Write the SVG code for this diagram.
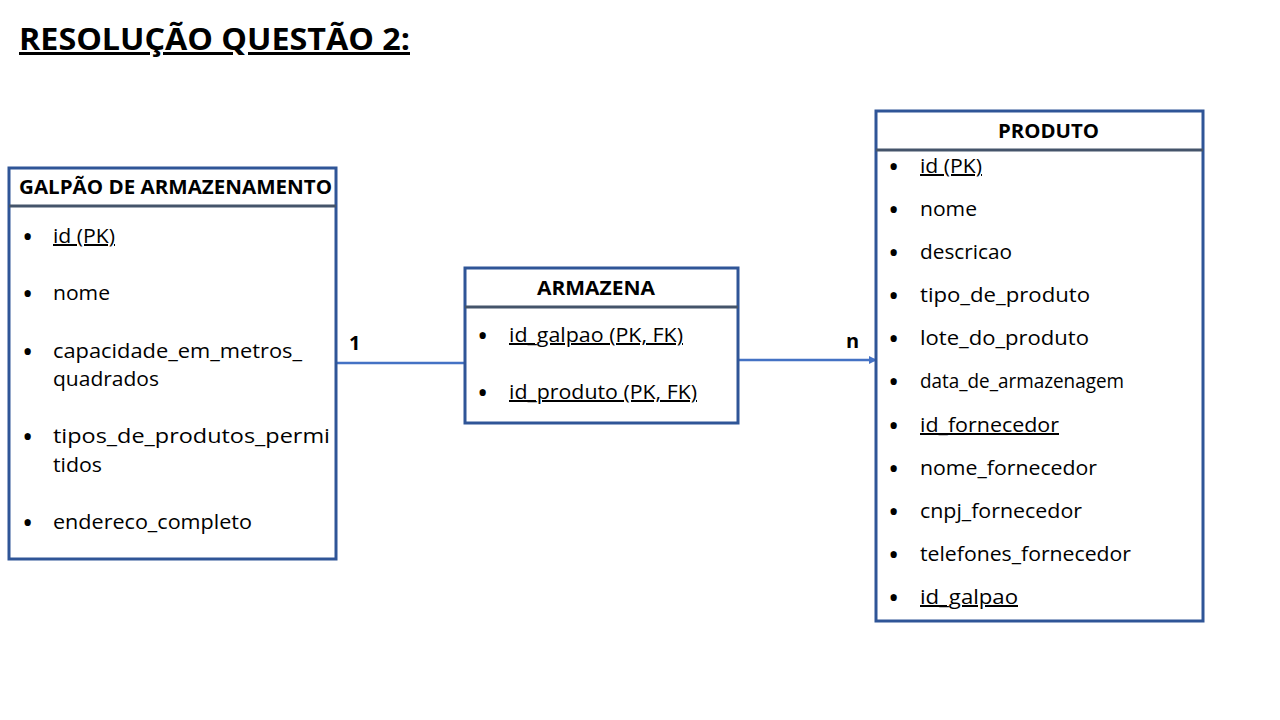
<svg xmlns="http://www.w3.org/2000/svg" width="1280" height="720" viewBox="0 0 1280 720">
<defs>
<style>
text{font-family:"Open Sans","Liberation Sans",sans-serif;fill:#000}
.t{font-size:20px}
.h{font-size:20px;font-weight:bold}
.u{text-decoration:underline}
.box{fill:#fff;stroke:#2F5597;stroke-width:3}
.div{stroke:#44546A;stroke-width:3}
.b{font-size:30px}
.con{stroke:#4472C4;stroke-width:2.5;fill:none}
</style>
<marker id="arr" markerWidth="8" markerHeight="8" refX="7" refY="4" orient="auto" markerUnits="userSpaceOnUse">
<path d="M0,0 L8,4 L0,8 Z" fill="#4472C4"/>
</marker>
</defs>
<rect width="1280" height="720" fill="#fff"/>
<text x="19" y="50" style="font-size:30px;font-weight:bold" class="u" textLength="391" lengthAdjust="spacingAndGlyphs">RESOLUÇÃO QUESTÃO 2: </text>

<g id="connectors">
<line class="con" x1="337" y1="363" x2="465" y2="363"/>
<line class="con" x1="738" y1="360" x2="876" y2="360" marker-end="url(#arr)"/>
<text x="349" y="350" class="h">1</text>
<text x="846" y="348" class="h">n</text>
</g>

<g id="galpao">
<rect class="box" x="9" y="168" width="327" height="391"/>
<line class="div" x1="9" y1="206" x2="336" y2="206"/>
<text x="19" y="194" class="h" textLength="313" lengthAdjust="spacingAndGlyphs">GALPÃO DE ARMAZENAMENTO</text>
<text x="22" y="247" class="b">•</text>
<text x="53" y="243" class="t u" textLength="62" lengthAdjust="spacingAndGlyphs">id (PK)</text>
<text x="22" y="304" class="b">•</text>
<text x="53" y="300" class="t" textLength="57" lengthAdjust="spacingAndGlyphs">nome</text>
<text x="22" y="362" class="b">•</text>
<text x="53" y="358" class="t" textLength="249" lengthAdjust="spacingAndGlyphs">capacidade_em_metros_</text>
<text x="53" y="386" class="t" textLength="106" lengthAdjust="spacingAndGlyphs">quadrados</text>
<text x="22" y="447" class="b">•</text>
<text x="53" y="443" class="t" textLength="277" lengthAdjust="spacingAndGlyphs">tipos_de_produtos_permi</text>
<text x="53" y="472" class="t" textLength="49" lengthAdjust="spacingAndGlyphs">tidos</text>
<text x="22" y="533" class="b">•</text>
<text x="53" y="529" class="t" textLength="199" lengthAdjust="spacingAndGlyphs">endereco_completo</text>
</g>

<g id="armazena">
<rect class="box" x="465" y="268" width="273" height="155"/>
<line class="div" x1="465" y1="307" x2="738" y2="307"/>
<text x="537" y="295" class="h" textLength="118" lengthAdjust="spacingAndGlyphs">ARMAZENA</text>
<text x="477" y="346" class="b">•</text>
<text x="509" y="342" class="t u" textLength="174" lengthAdjust="spacingAndGlyphs">id_galpao (PK, FK)</text>
<text x="477" y="403" class="b">•</text>
<text x="509" y="399" class="t u" textLength="188" lengthAdjust="spacingAndGlyphs">id_produto (PK, FK)</text>
</g>

<g id="produto">
<rect class="box" x="876" y="111" width="327" height="510"/>
<line class="div" x1="876" y1="150" x2="1203" y2="150"/>
<text x="998" y="138" class="h" textLength="101" lengthAdjust="spacingAndGlyphs">PRODUTO</text>
<text x="888" y="177" class="b">•</text>
<text x="920" y="173" class="t u" textLength="62" lengthAdjust="spacingAndGlyphs">id (PK)</text>
<text x="888" y="220" class="b">•</text>
<text x="920" y="216" class="t" textLength="57" lengthAdjust="spacingAndGlyphs">nome</text>
<text x="888" y="263" class="b">•</text>
<text x="920" y="259" class="t" textLength="92" lengthAdjust="spacingAndGlyphs">descricao</text>
<text x="888" y="306" class="b">•</text>
<text x="920" y="302" class="t" textLength="170" lengthAdjust="spacingAndGlyphs">tipo_de_produto</text>
<text x="888" y="349" class="b">•</text>
<text x="920" y="345" class="t" textLength="169" lengthAdjust="spacingAndGlyphs">lote_do_produto</text>
<text x="888" y="392" class="b">•</text>
<text x="920" y="388" class="t" textLength="204" lengthAdjust="spacingAndGlyphs">data_de_armazenagem</text>
<text x="888" y="436" class="b">•</text>
<text x="920" y="432" class="t u" textLength="139" lengthAdjust="spacingAndGlyphs">id_fornecedor</text>
<text x="888" y="479" class="b">•</text>
<text x="920" y="475" class="t" textLength="177" lengthAdjust="spacingAndGlyphs">nome_fornecedor</text>
<text x="888" y="522" class="b">•</text>
<text x="920" y="518" class="t" textLength="162" lengthAdjust="spacingAndGlyphs">cnpj_fornecedor</text>
<text x="888" y="565" class="b">•</text>
<text x="920" y="561" class="t" textLength="211" lengthAdjust="spacingAndGlyphs">telefones_fornecedor</text>
<text x="888" y="608" class="b">•</text>
<text x="920" y="604" class="t u" textLength="98" lengthAdjust="spacingAndGlyphs">id_galpao</text>
</g>
</svg>
